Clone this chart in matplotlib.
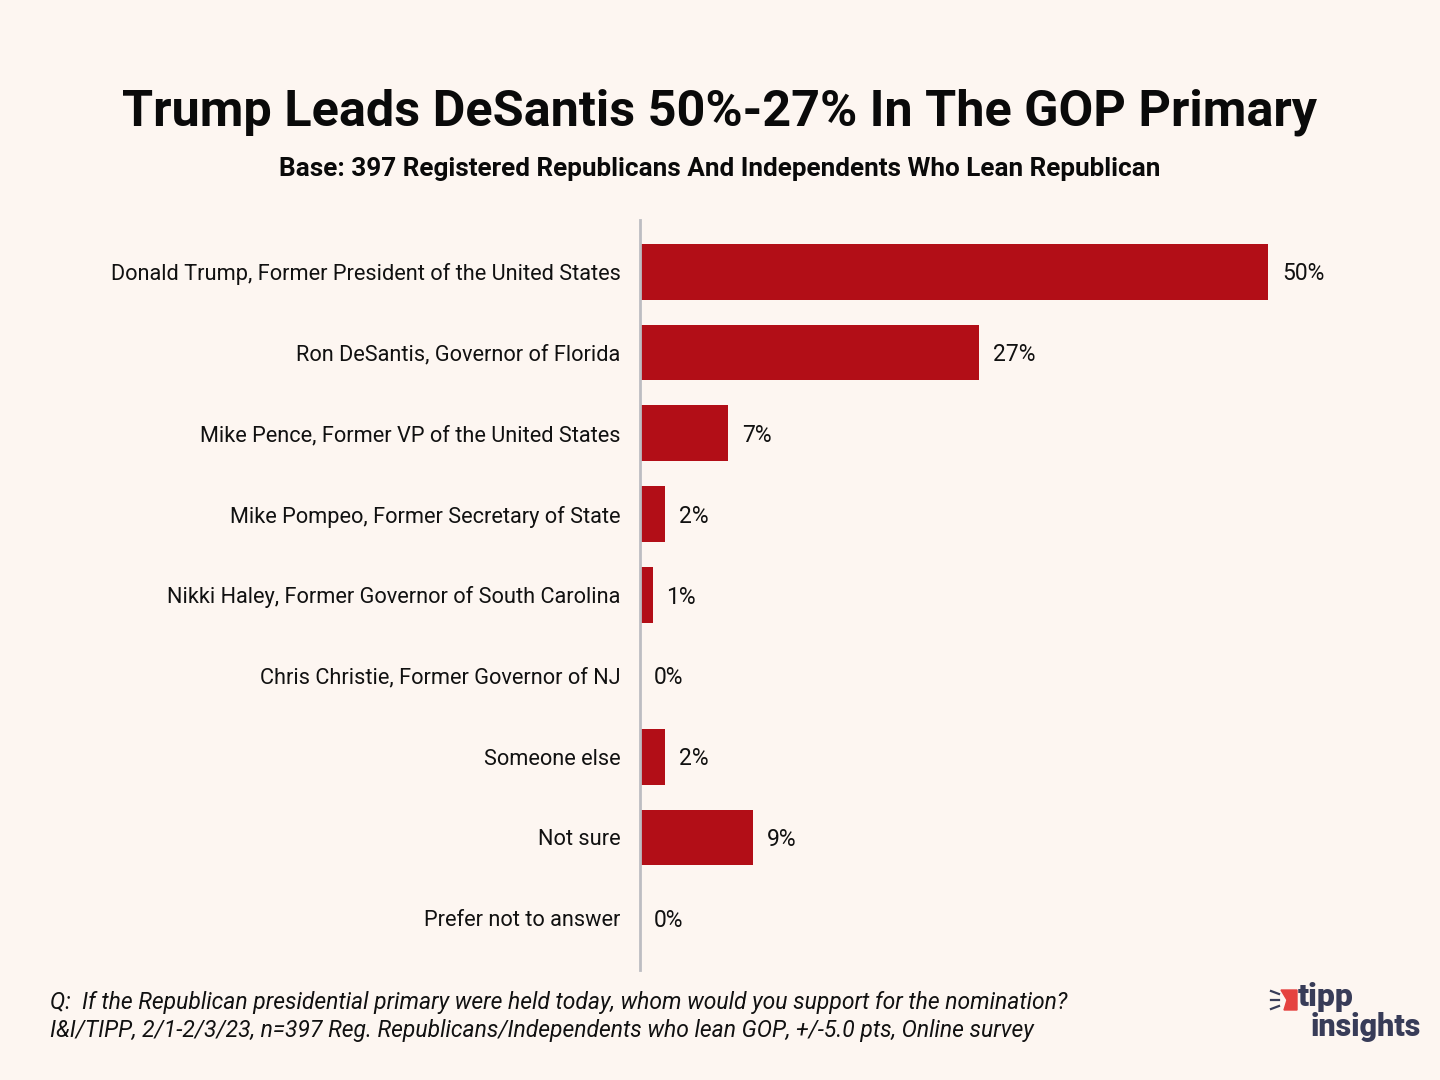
import matplotlib
matplotlib.use("Agg")
import matplotlib.pyplot as plt
from matplotlib.patches import Polygon

categories = [
    "Donald Trump, Former President of the United States",
    "Ron DeSantis, Governor of Florida",
    "Mike Pence, Former VP of the United States",
    "Mike Pompeo, Former Secretary of State",
    "Nikki Haley, Former Governor of South Carolina",
    "Chris Christie, Former Governor of NJ",
    "Someone else",
    "Not sure",
    "Prefer not to answer",
]
values = [50, 27, 7, 2, 1, 0, 2, 9, 0]
value_labels = ["50%", "27%", "7%", "2%", "1%", "0%", "2%", "9%", "0%"]

title = "Trump Leads DeSantis 50%-27% In The GOP Primary"
subtitle = "Base: 397 Registered Republicans And Independents Who Lean Republican"
foot1 = "Q:  If the Republican presidential primary were held today, whom would you support for the nomination?"
foot2 = "I&I/TIPP, 2/1-2/3/23, n=397 Reg. Republicans/Independents who lean GOP, +/-5.0 pts, Online survey"

BG = "#FDF6F1"
BAR = "#B20E17"
W, H = 1440, 1080

plt.rcParams['font.family'] = ['Roboto', 'DejaVu Sans']

fig = plt.figure(figsize=(14.4, 10.8), dpi=100, facecolor=BG)
ax_left, ax_right = 640, 1400
ax_top, ax_bot = 220, 970
ax = fig.add_axes([ax_left / W, 1 - ax_bot / H, (ax_right - ax_left) / W, (ax_bot - ax_top) / H])
ax.set_facecolor(BG)

px_per_unit = 628 / 50.0
ax.set_xlim(0, (ax_right - ax_left) / px_per_unit)
ax.set_ylim(len(categories) - 1 + 0.64, -0.64)

ypos = list(range(len(categories)))
ax.barh(ypos, values, height=0.69, color=BAR, zorder=2)
for y, v, lab in zip(ypos, values, value_labels):
    ax.annotate(lab, xy=(v, y), xytext=(14, -2), textcoords="offset pixels",
                va="center", ha="left", fontsize=16.5, color="#111111")

ax.set_yticks(ypos)
ax.set_yticklabels(categories, fontsize=15.7, color="#111111")
ax.tick_params(axis="y", length=0, pad=14)
ax.set_xticks([])
for s in ["top", "right", "bottom"]:
    ax.spines[s].set_visible(False)
ax.spines["left"].set_color("#BDBDC2")
ax.spines["left"].set_linewidth(2)
ax.spines["left"].set_zorder(3)

fig.text(0.5, 1 - 112 / H, title, ha="center", va="center", fontsize=36.3, fontweight="bold", color="#0A0A0A")
fig.text(0.5, 1 - 169 / H, subtitle, ha="center", va="center", fontsize=18.8, fontweight="bold", color="#0A0A0A")
fig.text(50 / W, 1 - 1003 / H, foot1, ha="left", va="center", fontsize=16.5, style="italic", color="#111111")
fig.text(50 / W, 1 - 1031 / H, foot2, ha="left", va="center", fontsize=16.5, style="italic", color="#111111")

# logo
NAVY = "#383C58"
fig.text(1298 / W, 1 - 1012 / H, "tipp", ha="left", va="bottom", fontsize=23, fontweight="heavy", color=NAVY)
fig.text(1421 / W, 1 - 1012 / H, "insights", ha="right", va="top", fontsize=22, fontweight="heavy", color=NAVY)
flag = Polygon([[1281 / W, 1 - 990 / H], [1297 / W, 1 - 990 / H], [1297 / W, 1 - 1010 / H],
                [1284 / W, 1 - 1010 / H], [1287 / W, 1 - 1000 / H]],
               closed=True, transform=fig.transFigure, color="#E5423F")
fig.patches.append(flag)
for y0, y1 in [(994, 991), (1000, 1000), (1006, 1009)]:
    fig.add_artist(plt.Line2D([1271 / W, 1279 / W], [1 - y1 / H, 1 - y0 / H],
                              transform=fig.transFigure, color=NAVY, lw=1.6))

fig.savefig("out.png", dpi=100, facecolor=BG)
